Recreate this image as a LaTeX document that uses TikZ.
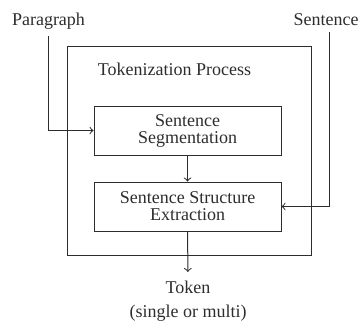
\documentclass[tikz,border=0pt]{standalone}
\usepackage{fontspec}
\setmainfont{Liberation Serif}
\usetikzlibrary{positioning}
\definecolor{ink}{RGB}{45,45,45}
\begin{document}
\begin{tikzpicture}[x=0.5pt,y=-0.5pt,line width=0.5pt,draw=ink,text=ink,
	font=\fontsize{9}{8.5}\selectfont,
	stagebox/.style={draw, minimum width=93.5pt, minimum height=24.5pt, align=center, inner sep=0pt}]
	\useasboundingbox (0,0) rectangle (362,322);
	% outer process frame
	\node[draw, minimum width=122pt, minimum height=104.5pt, inner sep=0pt] (proc) at (189,150.5) {};
	\node[anchor=base] (title) at (174.5,75) {Tokenization Process};
	% stages
	\node[stagebox] (seg) at (187.5,130.5) {Sentence\\Segmentation};
	\node[stagebox] (ext) at (187.5,206.5) {Sentence Structure\\Extraction};
	% inputs and output
	\node[anchor=base] (para) at (48.5,25) {Paragraph};
	\node[anchor=base] (sent) at (326,25) {Sentence};
	\node[anchor=north, align=center, inner ysep=4pt, font=\fontsize{9}{12}\selectfont] (tok) at (188,272) {Token\\(single or multi)};
	\draw[->] (para.south) |- (seg.west);
	\draw[->] ([xshift=1.5pt]sent.south) |- (ext.east);
	\draw[->] (seg) -- (ext);
	\draw[->] (ext) -- (tok);
\end{tikzpicture}
\end{document}
